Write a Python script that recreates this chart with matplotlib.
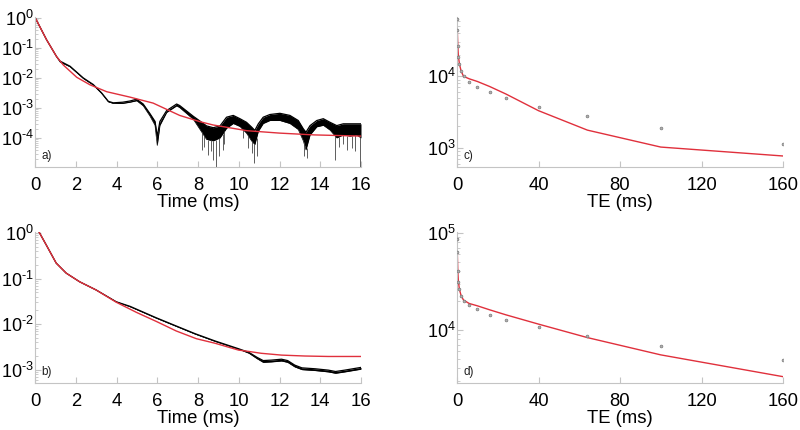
#!/usr/bin/env python3
""" Signal decay and echo-time fits, four log panels """
import numpy as np
import matplotlib
matplotlib.use('Agg')
import matplotlib.pyplot as plt
from matplotlib.ticker import LogLocator, FixedLocator, FuncFormatter

plt.rcParams['font.family'] = ['Liberation Sans', 'DejaVu Sans']
plt.rcParams['mathtext.fontset'] = 'custom'
plt.rcParams['mathtext.rm'] = 'Liberation Sans'
plt.rcParams['mathtext.default'] = 'regular'

# Panel a: measured signal (upper / lower edge of the noisy trace, log10) and fit
a_time = [0.0, 0.57, 1.06, 1.23, 1.72, 2.37, 2.86, 3.27, 3.6, 3.84, 4.3, 4.66,
          4.99, 5.31, 5.64, 5.89, 6.0, 6.13, 6.46, 6.95, 7.1, 7.77, 8.1, 8.42,
          8.75, 9.08, 9.4, 9.73, 10.06, 10.38, 10.63, 10.79, 10.96, 11.2, 11.53,
          12.02, 12.51, 12.92, 13.17, 13.3, 13.5, 13.83, 14.15, 14.48, 14.81,
          15.13, 15.46, 15.79, 16.0]
a_hi = [0.02, -0.73, -1.29, -1.44, -1.61, -2.0, -2.22, -2.5, -2.78, -2.83, -2.81,
        -2.77, -2.71, -2.87, -3.19, -3.45, -3.95, -3.45, -3.09, -2.87, -2.92,
        -3.28, -3.44, -3.6, -3.66, -3.6, -3.31, -3.25, -3.36, -3.48, -3.64,
        -3.75, -3.53, -3.31, -3.22, -3.18, -3.25, -3.42, -3.7, -3.81, -3.59, -3.42,
        -3.36, -3.48, -3.59, -3.53, -3.53, -3.53, -3.53]
a_lo = [0.02, -0.73, -1.29, -1.47, -1.63, -2.02, -2.24, -2.52, -2.8, -2.85, -2.85,
        -2.81, -2.76, -2.93, -3.27, -3.58, -4.25, -3.58, -3.15, -2.93, -2.99,
        -3.38, -3.72, -4.05, -4.1, -4.0, -3.68, -3.52, -3.62, -3.84, -4.1, -4.22,
        -3.78, -3.52, -3.42, -3.42, -3.52, -3.72, -4.1, -4.4, -3.9, -3.63,
        -3.58, -3.74, -4.0, -3.9, -3.94, -3.9, -4.0]
a_spike_time = [8.18, 8.3, 8.51, 8.62, 8.75, 8.88, 9.05, 9.21, 9.3, 10.2, 10.47,
                10.63, 10.75, 10.88, 13.2, 13.33, 14.72, 14.9, 15.1, 15.3, 15.54,
                15.71, 15.95]
a_spike_log = [-4.4, -4.3, -4.57, -4.45, -4.73, -4.96, -4.62, -4.4, -4.2, -4.0,
               -4.34, -4.51, -4.84, -4.62, -4.62, -4.68, -4.73, -4.3, -4.2, -4.4,
               -4.34, -4.45, -4.96]
a_fit_time = [0.0, 0.57, 1.06, 1.39, 2.05, 2.7, 3.52, 4.66, 5.8, 7.1, 8.1, 8.75,
              10.4, 12.0, 13.7, 16.0]
a_fit_log = [0.02, -0.73, -1.29, -1.57, -1.98, -2.23, -2.46, -2.64, -2.84, -3.25,
             -3.46, -3.57, -3.76, -3.84, -3.9, -3.94]

# Panel b
b_time = [0.19, 0.55, 1.04, 1.53, 2.19, 3.0, 3.99, 4.67, 5.95, 6.93, 7.86, 8.84,
          9.99, 10.5, 10.9, 11.2, 11.6, 12.1, 12.4, 12.75, 13.1, 13.75, 14.4,
          14.75, 15.2, 16.0]
b_hi = [0.03, -0.26, -0.66, -0.88, -1.07, -1.25, -1.51, -1.61, -1.86, -2.04,
        -2.21, -2.37, -2.54, -2.62, -2.73, -2.8, -2.79, -2.77, -2.8, -2.9,
        -2.96, -2.98, -3.01, -3.04, -3.01, -2.95]
b_lo = [0.03, -0.26, -0.66, -0.88, -1.07, -1.25, -1.51, -1.62, -1.87, -2.05,
        -2.22, -2.38, -2.55, -2.64, -2.76, -2.84, -2.83, -2.81, -2.84, -2.94,
        -3.0, -3.02, -3.05, -3.08, -3.05, -2.99]
b_fit_time = [0.19, 0.55, 1.04, 1.53, 2.19, 3.0, 3.99, 4.97, 5.95, 6.93, 7.92,
              8.84, 9.99, 10.5, 11.1, 12.1, 13.25, 14.4, 16.0]
b_fit_log = [0.03, -0.26, -0.66, -0.88, -1.07, -1.25, -1.52, -1.74, -1.94, -2.15,
             -2.32, -2.42, -2.57, -2.6, -2.64, -2.68, -2.7, -2.71, -2.71]

# Panels c and d: echo times, measured points and fitted values
te = [0.05, 0.15, 0.4, 0.7, 1.2, 2, 3.2, 6, 10, 16, 24, 40, 64, 100, 160]
c_points = [63000, 44500, 26600, 18800, 14900, 11900, 10200, 8400, 7200, 6030,
            4910, 3770, 2770, 1870, 1140]
c_fit = [67000, 44500, 26600, 18800, 14900, 11900, 10000, 9230, 8470, 7210,
         5660, 3310, 1770, 1026, 770]
d_points = [87300, 63000, 40100, 31100, 26100, 22600, 19940, 18140, 16380,
            14390, 12780, 10740, 8670, 6830, 4900]
d_fit = [88000, 63000, 40100, 31100, 26100, 22600, 20280, 18700, 17700, 16100,
         14290, 11460, 8320, 5520, 3290]

# y decades that carry a label in each panel
a_decades = [1, 1e-1, 1e-2, 1e-3, 1e-4]
b_decades = [1, 1e-1, 1e-2, 1e-3]
c_decades = [1e3, 1e4]
d_decades = [1e4, 1e5]

RED = '#e0303c'
AX_GRAY = '#c4c4c4'


def decade_label(v, pos):
    # short hyphen in the exponent, as in the original figure
    return r'$10^{\text{-}%d}$' % -round(np.log10(v)) if v < 1 \
        else r'$10^{%d}$' % round(np.log10(v))


def style_axes(ax, xlabel, decades):
    ax.set_yscale('log')
    ax.yaxis.set_major_locator(FixedLocator(decades))
    ax.yaxis.set_minor_locator(LogLocator(base=10, subs=np.arange(2, 10),
                                          numticks=30))
    ax.yaxis.set_major_formatter(FuncFormatter(decade_label))
    for side in ('top', 'right'):
        ax.spines[side].set_visible(False)
    for side in ('left', 'bottom'):
        ax.spines[side].set_color(AX_GRAY)
        ax.spines[side].set_linewidth(0.8)
    ax.tick_params(which='both', direction='in', color=AX_GRAY, labelsize=13.3)
    ax.tick_params(which='major', length=4, width=0.8)
    ax.tick_params(which='minor', length=2, width=0.6)
    ax.tick_params(axis='x', pad=7)
    ax.tick_params(axis='y', pad=1, labelsize=13)
    ax.set_xlabel(xlabel, fontsize=13.3, labelpad=0)


def draw_signal(ax, t, hi, lo):
    hi = 10 ** np.array(hi)
    lo = 10 ** np.array(lo)
    ax.fill_between(t, lo, hi, color='k', lw=0)
    ax.plot(t, hi, color='k', lw=0.9)
    ax.plot(t, lo, color='k', lw=0.5)


fig = plt.figure(figsize=(8, 4.3), dpi=100)
ax_a = fig.add_axes([0.04375, 0.6116, 0.4075, 0.349])
ax_b = fig.add_axes([0.04375, 0.1093, 0.4075, 0.351])
ax_c = fig.add_axes([0.57125, 0.6116, 0.4075, 0.349])
ax_d = fig.add_axes([0.57125, 0.1093, 0.4075, 0.351])

# a)
draw_signal(ax_a, a_time, a_hi, a_lo)
lo_at_spike = 10 ** np.interp(a_spike_time, a_time, a_lo)
ax_a.vlines(a_spike_time, 10 ** np.array(a_spike_log), lo_at_spike,
            color='#444444', lw=0.6)
ax_a.plot(a_fit_time, 10 ** np.array(a_fit_log), color=RED, lw=1.0)
style_axes(ax_a, 'Time (ms)', a_decades)
ax_a.set_xlim(0, 16)
ax_a.set_ylim(1.07e-5, 1.08)
ax_a.set_xticks(range(0, 17, 2))

# b)
draw_signal(ax_b, b_time, b_hi, b_lo)
ax_b.plot(b_fit_time, 10 ** np.array(b_fit_log), color=RED, lw=1.0)
style_axes(ax_b, 'Time (ms)', b_decades)
ax_b.set_xlim(0, 16)
ax_b.set_ylim(5.1e-4, 1.05)
ax_b.set_xticks(range(0, 17, 2))

# c) and d)
for ax, pts, fit, dec in ((ax_c, c_points, c_fit, c_decades),
                          (ax_d, d_points, d_fit, d_decades)):
    ax.plot(te, fit, color=RED, lw=1.0, zorder=2)
    ax.plot(te, pts, 'o', ms=2.0, mfc='#b0b0b0', mec='#7a7a7a', mew=0.5,
            zorder=3)
    style_axes(ax, 'TE (ms)', dec)
    ax.set_xlim(0, 160)
    ax.set_xticks([0, 40, 80, 120, 160])
ax_c.set_ylim(540, 67600)
ax_d.set_ylim(2830, 1.02e5)

for ax, lab in ((ax_a, 'a)'), (ax_b, 'b)'), (ax_c, 'c)'), (ax_d, 'd)')):
    ax.text(0.02, 0.075, lab, transform=ax.transAxes, fontsize=8.5,
            va='center', ha='left', color='#202020')

fig.savefig('out.png', dpi=100)
